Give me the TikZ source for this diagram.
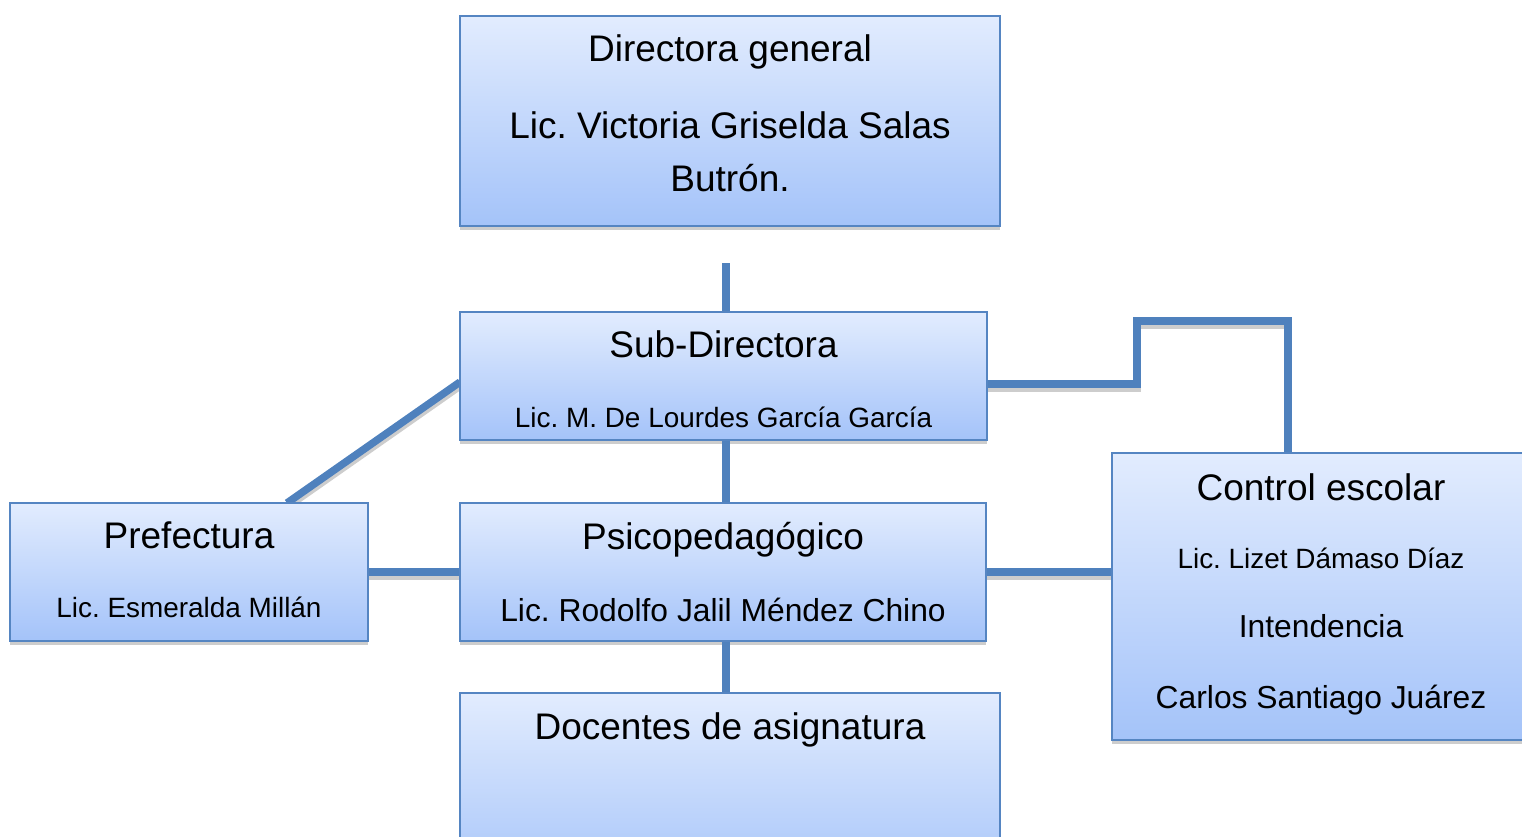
\documentclass[tikz,border=0pt]{standalone}
\usepackage{fontspec}
\setmainfont{Liberation Sans}
\frenchspacing
\definecolor{boxborder}{HTML}{5585C2}
\definecolor{boxtop}{HTML}{E2ECFE}
\definecolor{boxbot}{HTML}{A4C3F9}
\definecolor{connc}{HTML}{4F81BD}
\definecolor{shadec}{HTML}{CDCDCD}
\pgfdeclarelayer{shadowl}
\pgfdeclarelayer{connl}
\pgfsetlayers{shadowl,connl,main}
\begin{document}
\begin{tikzpicture}[x=1pt,y=-1pt,
  box/.style={rectangle, draw=boxborder, line width=1.6pt, top color=boxtop, bottom color=boxbot, anchor=north west, inner sep=0pt, outer sep=0pt},
  big/.style={font=\fontsize{37}{44}\selectfont, anchor=base, inner sep=0pt},
  mid/.style={font=\fontsize{31.8}{38}\selectfont, anchor=base, inner sep=0pt},
  small/.style={font=\fontsize{27.9}{33}\selectfont, anchor=base, inner sep=0pt},
  conn/.style={draw=connc, line width=7.5pt},
  connshadow/.style={draw=shadec, line width=7.5pt},
  boxshadow/.style={fill=shadec}
]
\useasboundingbox (0,0) rectangle (1522,836);
\clip (0,0) rectangle (1522,836);

% boxes
\node[box, minimum width=540, minimum height=210] (dir) at (460,16) {};
\node[box, minimum width=527, minimum height=128] (sub) at (460,312) {};
\node[box, minimum width=526, minimum height=138] (psi) at (460,503) {};
\node[box, minimum width=540, minimum height=200] (doc) at (460,693) {};
\node[box, minimum width=358, minimum height=138] (pre) at (10,503) {};
\node[box, minimum width=418, minimum height=287] (ce) at (1112,453) {};

% texts
\node[big] (t1) at (730,61) {Directora general};
\node[big] (t2) at (730,138) {Lic. Victoria Griselda Salas};
\node[big] (t3) at (730,191) {Butrón.};
\node[big] (t4) at (723.5,357) {Sub-Directora};
\node[small] (t5) at (723.5,427) {Lic. M. De Lourdes García García};
\node[big] (t6) at (723,549) {Psicopedagógico};
\node[mid] (t7) at (723,621) {Lic. Rodolfo Jalil Méndez Chino};
\node[big] (t8) at (730,739) {Docentes de asignatura};
\node[big] (t9) at (189,548) {Prefectura};
\node[small] (t10) at (189,617) {Lic. Esmeralda Millán};
\node[big] (t11) at (1321,500) {Control escolar};
\node[small] (t12) at (1321,568) {Lic. Lizet Dámaso Díaz};
\node[mid] (t13) at (1321,637) {Intendencia};
\node[mid] (t14) at (1321,708) {Carlos Santiago Juárez};

% helper coordinates
\coordinate (c1) at (726,263);
\coordinate (e1) at (1137,384);
\coordinate (e2) at (1137,321);
\coordinate (e3) at (1288,321);
\coordinate (d1) at (287,0);
\coordinate (d2) at (0,382);

% box shadows
\begin{pgfonlayer}{shadowl}
  \foreach \b in {dir,sub,psi,doc,pre,ce}{
    \fill[boxshadow] (\b.south west) rectangle ([yshift=-4pt]\b.south east);
  }
  \begin{scope}[transform canvas={yshift=-4pt}]
    \draw[connshadow] (c1) -- (sub.north -| c1);
    \draw[connshadow] (sub.south -| c1) -- (psi.north -| c1);
    \draw[connshadow] (psi.south -| c1) -- (doc.north -| c1);
    \draw[connshadow] (pre.east) -- (psi.west);
    \draw[connshadow] (psi.east) -- (psi.east -| ce.west);
    \draw[connshadow] (pre.north -| d1) -- (sub.west |- d2);
    \draw[connshadow] (sub.east |- e1) -- (e1) -- (e2) -- (e3) -- (ce.north -| e3);
  \end{scope}
\end{pgfonlayer}

% connectors
\begin{pgfonlayer}{connl}
  \draw[conn] (c1) -- (sub.north -| c1);
  \draw[conn] (sub.south -| c1) -- (psi.north -| c1);
  \draw[conn] (psi.south -| c1) -- (doc.north -| c1);
  \draw[conn] (pre.east) -- (psi.west);
  \draw[conn] (psi.east) -- (psi.east -| ce.west);
  \draw[conn] (pre.north -| d1) -- (sub.west |- d2);
  \draw[conn] (sub.east |- e1) -- (e1) -- (e2) -- (e3) -- (ce.north -| e3);
\end{pgfonlayer}
\end{tikzpicture}
\end{document}
